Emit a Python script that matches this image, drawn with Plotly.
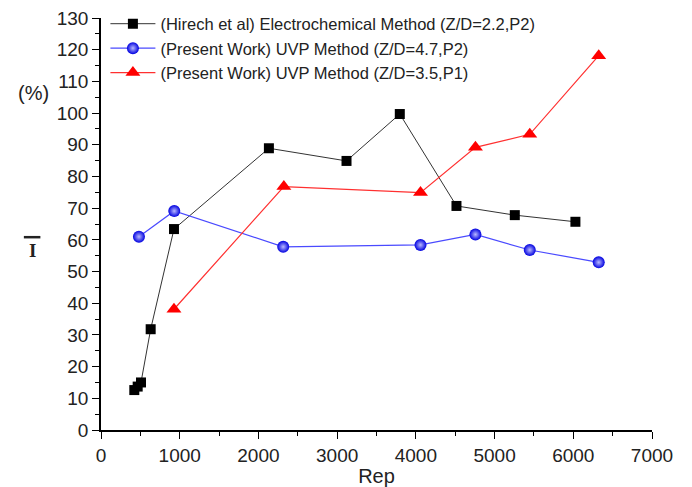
import plotly.graph_objects as go

# Data
hirech_x = [423, 466, 508, 631, 927, 2133, 3119, 3796, 4516, 5257, 6027]
hirech_y = [12.6, 13.7, 15.0, 31.8, 63.4, 88.9, 84.9, 99.7, 70.7, 67.8, 65.7]

uvp47_x = [482, 931, 2315, 4059, 4757, 5447, 6323]
uvp47_y = [61.0, 69.1, 57.8, 58.4, 61.7, 56.8, 52.9]

uvp35_x = [927, 2323, 4059, 4757, 5447, 6323]
uvp35_y = [38.1, 76.8, 74.9, 89.2, 93.3, 118.1]

names = [
    "(Hirech et al) Electrochemical Method (Z/D=2.2,P2)",
    "(Present Work) UVP Method (Z/D=4.7,P2)",
    "(Present Work) UVP Method (Z/D=3.5,P1)",
]

fig = go.Figure()
fig.add_trace(go.Scatter(
    x=hirech_x, y=hirech_y, name=names[0], mode="lines+markers",
    line=dict(color="#333333", width=1),
    marker=dict(symbol="square", size=10, color="black"),
))
fig.add_trace(go.Scatter(
    x=uvp47_x, y=uvp47_y, name=names[1], mode="lines+markers",
    line=dict(color="#4a4aff", width=1.2),
    marker=dict(symbol="circle", size=12, color="#0000e0",
                gradient=dict(type="radial", color="#b8b8ff")),
))
fig.add_trace(go.Scatter(
    x=uvp35_x, y=uvp35_y, name=names[2], mode="lines+markers",
    line=dict(color="#ff3030", width=1.2),
    marker=dict(symbol="triangle-up", size=13, color="#ff0000"),
))

FONT = "Liberation Sans, Arial"
axis_font = dict(family=FONT, size=19, color="#222222")

fig.update_layout(
    width=692, height=487,
    margin=dict(l=101, r=40, t=18, b=57, autoexpand=False),
    plot_bgcolor="white", paper_bgcolor="white",
    showlegend=True,
    legend=dict(x=0.008, y=1.028, xanchor="left", yanchor="top",
                bgcolor="rgba(0,0,0,0)",
                font=dict(family=FONT, size=16.5, color="#222222"),
                itemwidth=45, tracegroupgap=0),
    xaxis=dict(
        range=[0, 7000], tickmode="linear", tick0=0, dtick=1000,
        showgrid=False, zeroline=False, automargin=False,
        showline=True, linecolor="black", linewidth=1.5,
        ticks="outside", ticklen=7, tickwidth=1.2, tickcolor="black",
        minor=dict(dtick=500, ticks="outside", ticklen=4, tickcolor="black", tickwidth=1),
        tickfont=axis_font,
        title=dict(text="Rep", font=dict(family=FONT, size=20, color="#222222"),
                   standoff=2),
    ),
    yaxis=dict(
        range=[0, 130], tickmode="linear", tick0=0, dtick=10,
        showgrid=False, zeroline=False, automargin=False,
        showline=True, linecolor="black", linewidth=1.5,
        ticks="outside", ticklen=7, tickwidth=1.2, tickcolor="black",
        minor=dict(dtick=5, ticks="outside", ticklen=4, tickcolor="black", tickwidth=1),
        tickfont=axis_font,
    ),
    annotations=[
        dict(text="(%)", xref="paper", yref="paper", x=-0.09, y=0.819,
             xanchor="right", yanchor="middle", showarrow=False,
             font=dict(family=FONT, size=20, color="#222222")),
        dict(text="<b>I</b>", xref="paper", yref="paper", x=-0.125, y=0.436,
             xanchor="center", yanchor="middle", showarrow=False,
             font=dict(family="Liberation Serif, Times New Roman", size=19, color="#222222")),
    ],
    shapes=[
        dict(type="line", xref="paper", yref="paper", x0=-0.14, x1=-0.11, y0=0.468, y1=0.468,
             line=dict(color="#222222", width=2.5)),
    ],
)

fig.write_html("out.html")
